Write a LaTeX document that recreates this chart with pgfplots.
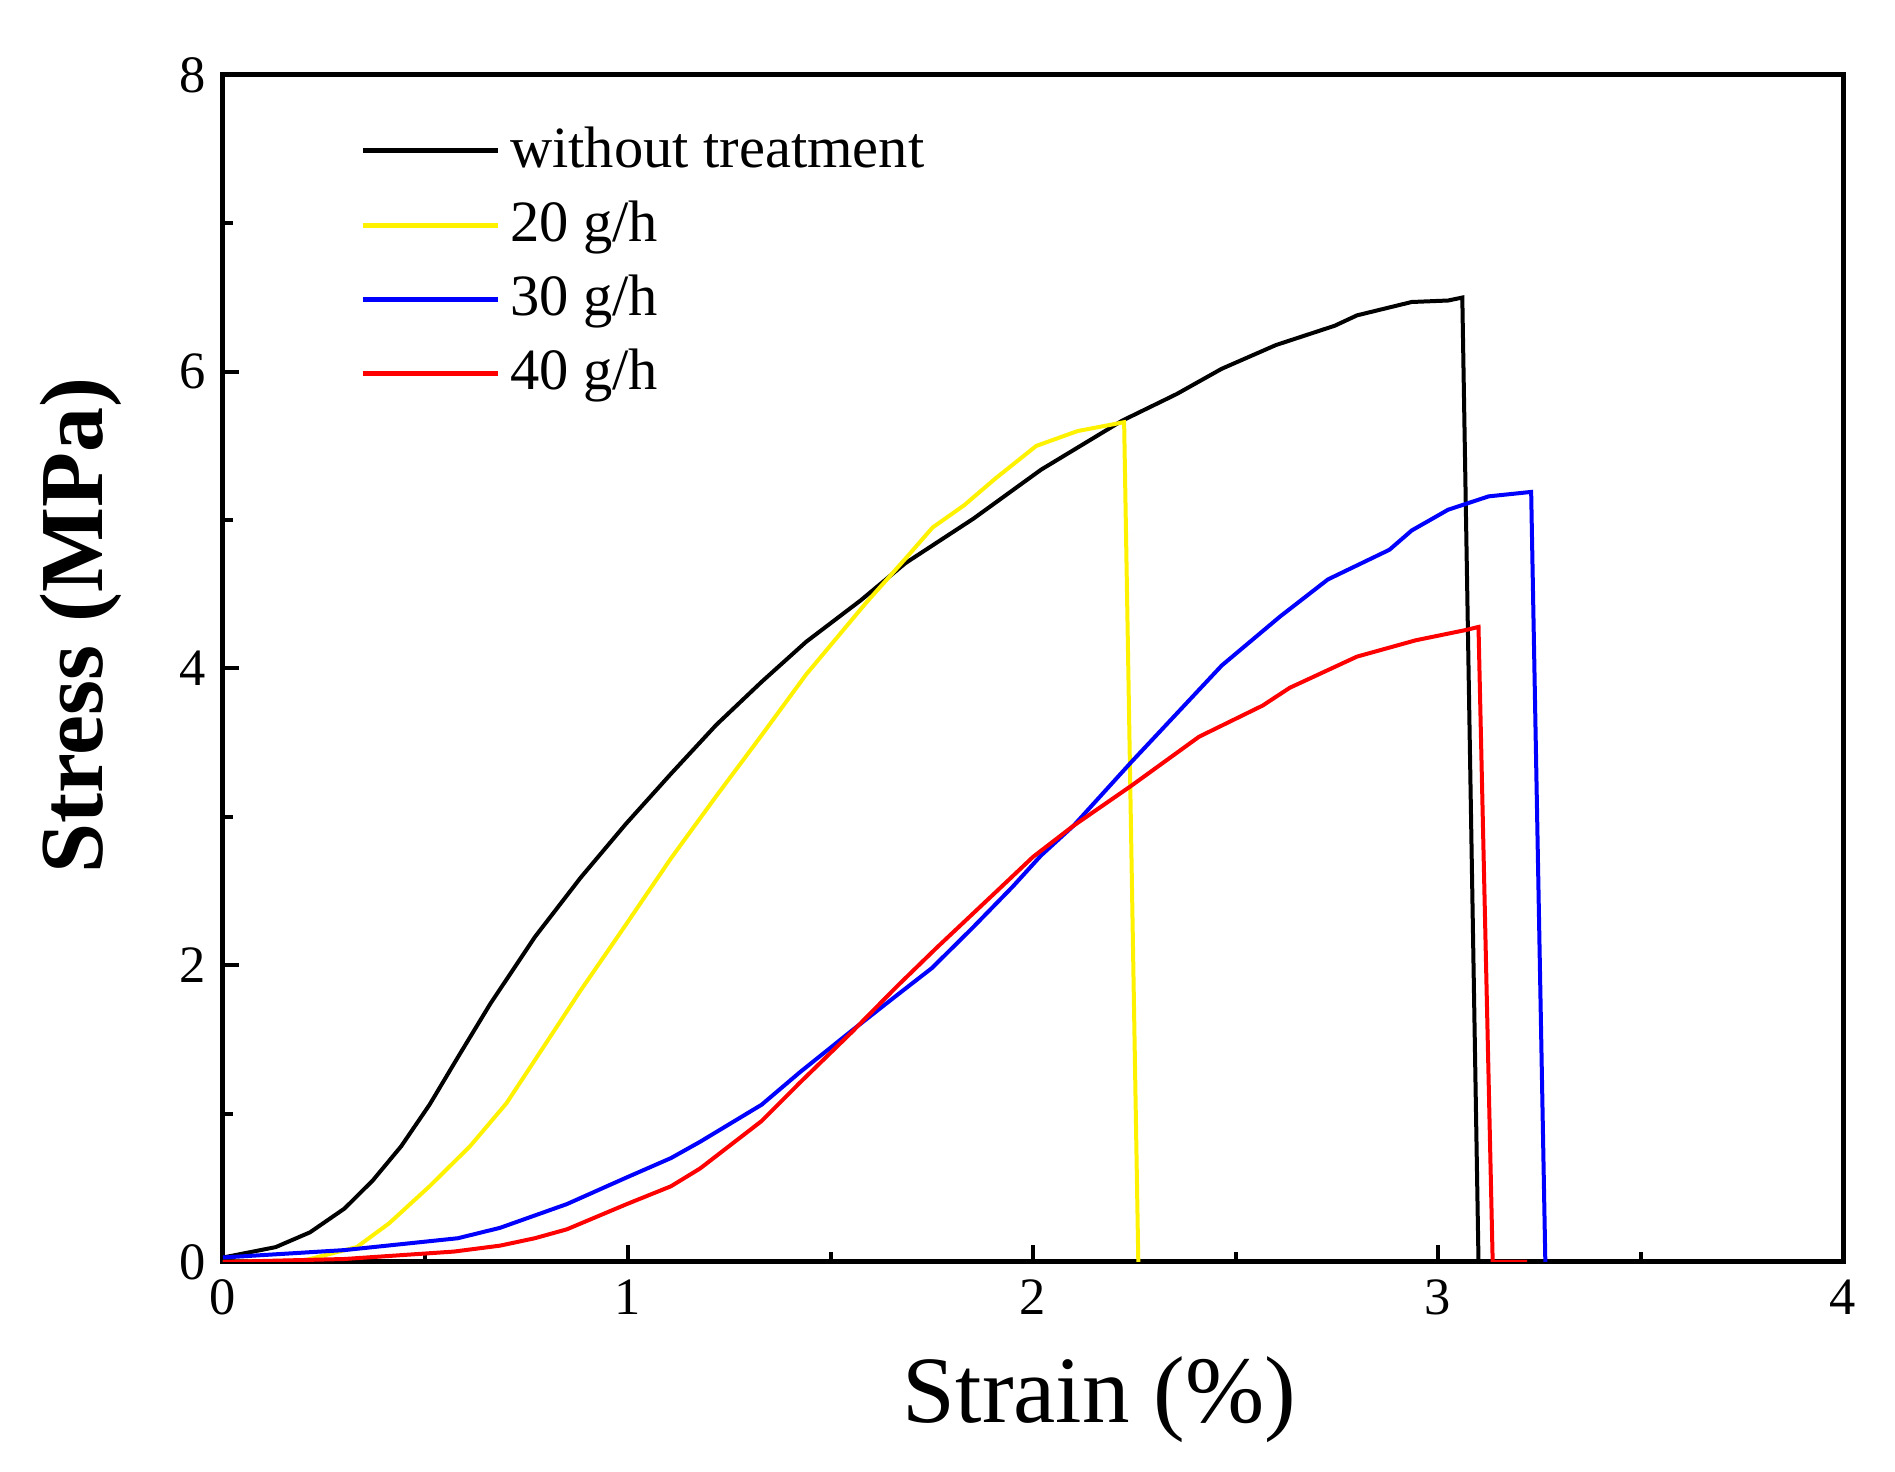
\documentclass[border=0pt]{standalone}
\usepackage{pgfplots}
\pgfplotsset{compat=1.18}
\usepackage{fontspec}
\setmainfont{Liberation Serif}

\begin{document}
\begin{tikzpicture}
\begin{axis}[name=ax,
	scale only axis,
	width=324pt, height=237.4pt,
	xmin=0, xmax=4, ymin=0, ymax=8,
	xtick={0,1,2,3,4}, ytick={0,2,4,6,8},
	minor tick num=1,
	tick align=inside,
	xtick pos=bottom, ytick pos=left,
	major tick length=3.3pt, minor tick length=2pt,
	axis line style={line width=1pt},
	every tick/.style={black, line width=0.8pt},
	/pgf/number format/assume math mode=true,
	ticklabel style={font=\fontsize{10.5}{12}\selectfont},
	xlabel={Strain (\%)},
	ylabel={\textbf{Stress (MPa)}},
	xlabel style={font=\fontsize{19}{22}\selectfont, at={(axis description cs:0.541,0)}, anchor=base, yshift=-32.2pt, inner sep=0pt},
	ylabel style={font=\fontsize{18}{21}\selectfont, at={(axis description cs:-0.0877,0.536)}, anchor=center, inner sep=0pt},
	legend style={draw=none, fill=none, at={(0.084,0.9655)}, anchor=north west,
		font=\fontsize{11.7}{13}\selectfont, row sep=1.2pt, inner sep=0pt},
	legend cell align=left,
	legend image code/.code={\draw[#1, line width=1pt] (0pt,0pt) -- (27pt,0pt);},
	every axis plot/.append style={line width=0.8pt},
]
% without treatment
\addplot[black] coordinates {
(0,0.03) (0.13,0.10) (0.215,0.2) (0.30,0.36) (0.37,0.55) (0.44,0.78) (0.51,1.06)
(0.58,1.38) (0.66,1.74) (0.77,2.19) (0.883,2.59) (0.994,2.95) (1.106,3.29)
(1.218,3.62) (1.33,3.91) (1.44,4.18) (1.575,4.46) (1.685,4.71) (1.853,5.01)
(2.02,5.34) (2.22,5.67) (2.355,5.85) (2.466,6.02) (2.6,6.18) (2.745,6.31)
(2.8,6.38) (2.935,6.47) (3.025,6.48) (3.06,6.50) (3.10,0)
};
% 20 g/h
\addplot[yellow] coordinates {
(0,0) (0.2,0.01) (0.33,0.10) (0.41,0.26) (0.51,0.51) (0.61,0.78) (0.70,1.07)
(0.77,1.36) (0.883,1.83) (0.994,2.27) (1.106,2.72) (1.218,3.14) (1.33,3.55)
(1.44,3.96) (1.587,4.44) (1.685,4.74) (1.752,4.95) (1.83,5.10) (1.907,5.28)
(2.008,5.50) (2.11,5.60) (2.225,5.66) (2.26,0)
};
% 30 g/h
\addplot[blue] coordinates {
(0,0.03) (0.30,0.08) (0.58,0.16) (0.684,0.23) (0.849,0.39) (0.997,0.57)
(1.106,0.70) (1.178,0.81) (1.33,1.06) (1.425,1.28) (1.553,1.56) (1.665,1.80)
(1.75,1.98) (1.85,2.25) (1.95,2.53) (2.02,2.74) (2.1,2.94) (2.243,3.37)
(2.466,4.02) (2.61,4.35) (2.728,4.60) (2.88,4.80) (2.935,4.93) (3.025,5.07)
(3.125,5.16) (3.23,5.19) (3.265,0)
};
% 40 g/h
\addplot[red] coordinates {
(0,0.0) (0.3,0.02) (0.57,0.07) (0.684,0.11) (0.77,0.16) (0.849,0.22) (0.997,0.39)
(1.106,0.51) (1.178,0.63) (1.33,0.95) (1.425,1.21) (1.553,1.55) (1.665,1.86)
(1.763,2.12) (1.907,2.49) (2.0,2.73) (2.1,2.94) (2.243,3.21) (2.41,3.54)
(2.567,3.75) (2.634,3.87) (2.8,4.08) (2.945,4.19) (3.07,4.26) (3.10,4.28)
(3.135,0) (3.22,0)
};
\legend{without treatment, 20 g/h, 30 g/h, 40 g/h}
\end{axis}
\path ([shift={(-44.6pt,-42pt)}]ax.south west) rectangle ([shift={(10.4pt,15pt)}]ax.north east);
\end{tikzpicture}
\end{document}
